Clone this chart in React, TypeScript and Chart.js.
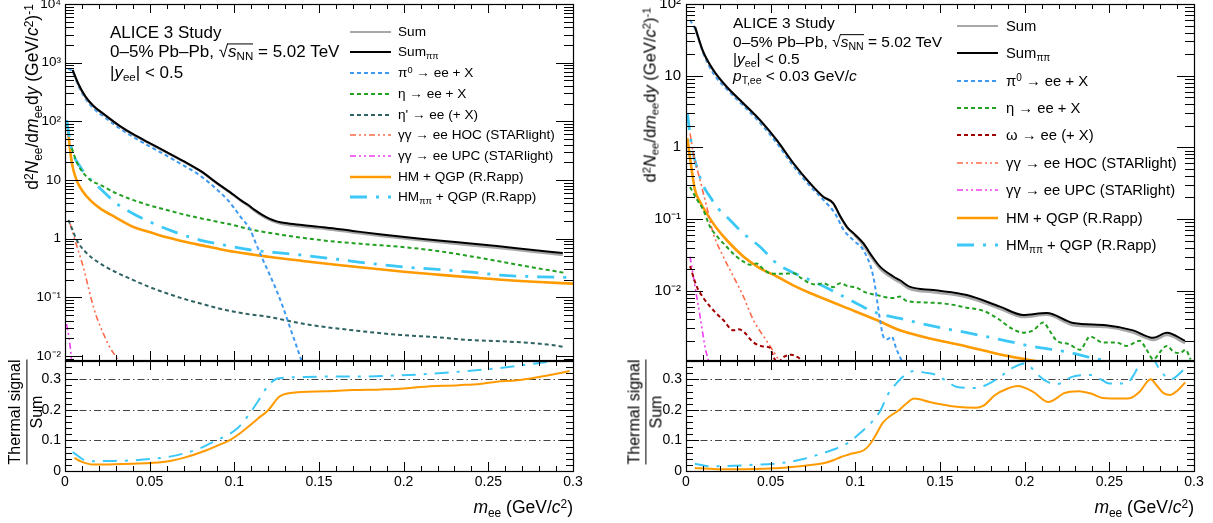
import React, { useEffect, useRef } from 'react';
import { Chart, registerables } from 'chart.js';
Chart.register(...registerables);

type Pt = [number, number];

// ---------------- Axis ticks ----------------
const X_TICKS = [0, 0.05, 0.1, 0.15, 0.2, 0.25, 0.3];
const X_TICK_LABELS = ['0', '0.05', '0.1', '0.15', '0.2', '0.25', '0.3'];
const L_Y_TICKS = [1e-2, 1e-1, 1, 10, 100, 1e3, 1e4];
const L_Y_TICK_LABELS = ['10\u207B\u00B2', '10\u207B\u00B9', '1', '10', '10\u00B2', '10\u00B3', '10\u2074'];
const R_Y_TICKS = [1e-2, 1e-1, 1, 10, 100];
const R_Y_TICK_LABELS = ['10\u207B\u00B2', '10\u207B\u00B9', '1', '10', '10\u00B2'];
const RATIO_TICKS = [0, 0.1, 0.2, 0.3];
const RATIO_TICK_LABELS = ['0', '0.1', '0.2', '0.3'];

// ---------------- Left panel: inclusive ----------------
const L_SUMPP: Pt[] = [[0.0045,752],[0.008,430],[0.012,267],[0.0167,185],[0.024,126],[0.0325,83],[0.04,61],[0.05,42.5],[0.06,30],[0.07,21],[0.08,14.3],[0.09,8.8],[0.1,5.5],[0.104,4.5],[0.108,3.8],[0.112,3.1],[0.116,2.6],[0.12,2.25],[0.125,1.98],[0.13,1.85],[0.14,1.72],[0.154,1.56],[0.17,1.36],[0.187,1.18],[0.21,1.0],[0.232,0.87],[0.255,0.75],[0.275,0.65],[0.294,0.57]];
const L_SUM: Pt[] = [[0.0045,745],[0.008,422],[0.012,262],[0.0167,181],[0.024,124],[0.0325,82],[0.04,60],[0.05,42],[0.06,29.6],[0.07,20.7],[0.08,14.1],[0.09,8.65],[0.1,5.38],[0.104,4.38],[0.108,3.7],[0.112,3.0],[0.116,2.5],[0.12,2.15],[0.125,1.88],[0.13,1.75],[0.14,1.62],[0.154,1.47],[0.17,1.28],[0.187,1.11],[0.21,0.94],[0.232,0.815],[0.255,0.70],[0.275,0.605],[0.294,0.53]];
const L_PI0: Pt[] = [[0.002,800],[0.0045,690],[0.008,395],[0.012,245],[0.0167,168],[0.024,114],[0.0325,75],[0.04,55],[0.05,37.5],[0.06,26],[0.07,17.8],[0.08,11.8],[0.09,6.8],[0.096,4.6],[0.1,3.3],[0.104,2.3],[0.109,1.5],[0.113,0.8],[0.117,0.43],[0.121,0.24],[0.125,0.13],[0.129,0.065],[0.133,0.03],[0.136,0.017],[0.139,0.0095],[0.142,0.0055]];
const L_ETA: Pt[] = [[0.004,35],[0.007,20],[0.011,13],[0.015,10],[0.0207,8.3],[0.03,6.0],[0.04,4.6],[0.05,3.7],[0.06,3.1],[0.07,2.6],[0.08,2.24],[0.09,1.95],[0.1,1.7],[0.109,1.45],[0.12,1.27],[0.139,1.05],[0.16,0.89],[0.18,0.8],[0.198,0.73],[0.22,0.62],[0.24,0.5],[0.257,0.41],[0.275,0.33],[0.296,0.26]];
const L_ETAP: Pt[] = [[0.002,2.1],[0.0045,1.4],[0.0069,0.95],[0.012,0.6],[0.0207,0.38],[0.03,0.27],[0.04,0.2],[0.05,0.15],[0.06,0.118],[0.07,0.095],[0.08,0.079],[0.09,0.066],[0.1,0.057],[0.11,0.051],[0.12,0.047],[0.13,0.041],[0.145,0.034],[0.168,0.028],[0.198,0.023],[0.22,0.021],[0.237,0.019],[0.26,0.0178],[0.277,0.0166],[0.285,0.0158],[0.294,0.0145]];
const L_HOC: Pt[] = [[0.003,1.8],[0.007,0.75],[0.0108,0.33],[0.014,0.14],[0.0167,0.07],[0.0195,0.04],[0.0226,0.0245],[0.026,0.015],[0.0305,0.0093],[0.033,0.007]];
const L_UPC: Pt[] = [[0.0009,0.035],[0.0025,0.02],[0.0035,0.011],[0.0045,0.006]];
const L_HM: Pt[] = [[0.001,105],[0.002,60],[0.0035,25],[0.0049,15],[0.0075,9],[0.0099,6.8],[0.015,4.5],[0.0207,3.3],[0.03,2.3],[0.04,1.6],[0.05,1.3],[0.06,1.06],[0.07,0.9],[0.08,0.78],[0.09,0.68],[0.1,0.6],[0.12,0.495],[0.14,0.42],[0.16,0.36],[0.18,0.315],[0.2,0.275],[0.22,0.245],[0.24,0.22],[0.26,0.198],[0.28,0.183],[0.3,0.172]];
const L_HMPP: Pt[] = [[0.001,105],[0.003,45],[0.005,27],[0.0089,17],[0.0125,12],[0.0167,9.3],[0.0305,4.0],[0.04,2.7],[0.05,1.95],[0.065,1.3],[0.0797,0.95],[0.095,0.77],[0.109,0.65],[0.125,0.58],[0.139,0.53],[0.16,0.45],[0.18,0.38],[0.198,0.335],[0.22,0.3],[0.24,0.27],[0.257,0.24],[0.28,0.225],[0.296,0.22]];
const L_RATIO_HM: Pt[] = [[0.0056,0.043],[0.01,0.03],[0.017,0.021],[0.029,0.022],[0.04,0.024],[0.052,0.027],[0.062,0.033],[0.07,0.043],[0.0836,0.068],[0.09,0.083],[0.097,0.10],[0.103,0.122],[0.108,0.144],[0.114,0.172],[0.12,0.199],[0.1265,0.243],[0.133,0.255],[0.154,0.261],[0.17,0.265],[0.187,0.267],[0.2,0.27],[0.21,0.275],[0.2326,0.281],[0.245,0.285],[0.255,0.292],[0.267,0.297],[0.278,0.306],[0.288,0.316],[0.298,0.327]];
const L_RATIO_HMPP: Pt[] = [[0.0045,0.062],[0.0136,0.032],[0.029,0.033],[0.04,0.035],[0.052,0.04],[0.062,0.047],[0.07,0.057],[0.08,0.075],[0.088,0.097],[0.095,0.115],[0.1017,0.139],[0.108,0.18],[0.115,0.237],[0.12,0.28],[0.125,0.302],[0.129,0.305],[0.142,0.308],[0.16,0.309],[0.175,0.309],[0.187,0.311],[0.21,0.316],[0.2326,0.325],[0.255,0.336],[0.278,0.352],[0.289,0.36],[0.3,0.372]];

// ---------------- Right panel: pT,ee < 0.03 GeV/c ----------------
const R_SUMPP: Pt[] = [[0.0053,48],[0.01,22],[0.0161,12],[0.024,7.0],[0.0339,4.1],[0.0437,2.4],[0.0536,1.26],[0.0634,0.6],[0.0732,0.316],[0.081,0.205],[0.087,0.166],[0.091,0.11],[0.095,0.078],[0.1,0.06],[0.1047,0.046],[0.11,0.03],[0.1146,0.0217],[0.1224,0.0158],[0.1264,0.014],[0.132,0.0114],[0.146,0.0102],[0.1658,0.0087],[0.1854,0.006],[0.199,0.0046],[0.213,0.0049],[0.2287,0.00355],[0.248,0.0033],[0.264,0.0028],[0.276,0.0022],[0.284,0.0026],[0.2947,0.002]];
const R_SUM: Pt[] = [[0.0053,48],[0.01,22],[0.0161,12],[0.024,7.0],[0.0339,4.1],[0.0437,2.4],[0.0536,1.26],[0.0634,0.6],[0.0732,0.315],[0.081,0.204],[0.087,0.165],[0.091,0.109],[0.095,0.077],[0.1,0.058],[0.1047,0.043],[0.11,0.028],[0.1146,0.0202],[0.1224,0.0147],[0.1264,0.013],[0.132,0.0106],[0.146,0.0095],[0.1658,0.0081],[0.1854,0.0056],[0.199,0.0043],[0.213,0.0046],[0.2287,0.0033],[0.248,0.0031],[0.264,0.0026],[0.276,0.00205],[0.284,0.0024],[0.2947,0.00186]];
const R_PI0: Pt[] = [[0.0024,60],[0.0053,45],[0.01,21],[0.0161,10.8],[0.024,6.5],[0.0339,3.8],[0.0437,2.2],[0.0536,1.15],[0.0634,0.55],[0.0732,0.29],[0.083,0.166],[0.088,0.12],[0.093,0.071],[0.099,0.05],[0.1047,0.037],[0.1106,0.0158],[0.1146,0.0039],[0.1165,0.0023],[0.119,0.0021],[0.1214,0.0023],[0.1244,0.0015],[0.127,0.0011],[0.13,0.0007]];
const R_ETA: Pt[] = [[0.0024,0.28],[0.0063,0.19],[0.0102,0.134],[0.0142,0.078],[0.019,0.055],[0.024,0.041],[0.029,0.031],[0.0339,0.0255],[0.038,0.023],[0.0417,0.024],[0.0457,0.02],[0.0496,0.0175],[0.056,0.0172],[0.0634,0.0175],[0.068,0.015],[0.0732,0.0127],[0.077,0.0122],[0.081,0.0127],[0.087,0.0112],[0.091,0.0127],[0.096,0.0115],[0.1,0.0112],[0.106,0.0095],[0.1126,0.0087],[0.1224,0.0079],[0.1264,0.0083],[0.1303,0.0072],[0.146,0.0068],[0.155,0.0065],[0.1658,0.0058],[0.176,0.0052],[0.1854,0.0039],[0.192,0.003],[0.199,0.0026],[0.205,0.0028],[0.211,0.0036],[0.215,0.0027],[0.219,0.002],[0.226,0.0018],[0.2327,0.0015],[0.2386,0.0023],[0.246,0.0019],[0.254,0.0019],[0.26,0.0017],[0.268,0.002],[0.272,0.0015],[0.276,0.0011],[0.28,0.0014],[0.284,0.0017],[0.288,0.0014],[0.2917,0.00135],[0.295,0.0015],[0.298,0.0011]];
const R_OMEGA: Pt[] = [[0.0024,0.022],[0.0063,0.0115],[0.0102,0.008],[0.0142,0.006],[0.018,0.0048],[0.022,0.0039],[0.028,0.0028],[0.031,0.0029],[0.0339,0.0027],[0.0398,0.0019],[0.0457,0.00167],[0.0496,0.0016],[0.0516,0.0012],[0.054,0.001],[0.058,0.0012],[0.062,0.00128],[0.066,0.00118],[0.07,0.001],[0.075,0.0009]];
const R_HOC: Pt[] = [[0.0024,1.57],[0.0043,0.83],[0.0083,0.35],[0.0122,0.149],[0.0161,0.063],[0.022,0.030],[0.028,0.0158],[0.0339,0.0083],[0.0398,0.0039],[0.0476,0.002],[0.0536,0.0012],[0.058,0.0008]];
const R_UPC: Pt[] = [[0.0024,0.030],[0.0053,0.0115],[0.0083,0.0044],[0.0112,0.00166],[0.0135,0.001]];
const R_HM: Pt[] = [[0.0008,1.34],[0.0034,0.48],[0.0053,0.255],[0.0085,0.17],[0.0122,0.12],[0.018,0.075],[0.024,0.051],[0.0339,0.030],[0.043,0.021],[0.0536,0.0158],[0.063,0.012],[0.0732,0.0093],[0.083,0.0075],[0.093,0.006],[0.1126,0.0039],[0.1264,0.0028],[0.146,0.0021],[0.1658,0.00167],[0.185,0.0013],[0.201,0.0011],[0.22,0.00092],[0.25,0.0007],[0.28,0.00058],[0.3,0.0005]];
const R_HMPP: Pt[] = [[0.0008,3.0],[0.0035,1.0],[0.0063,0.54],[0.01,0.3],[0.0142,0.204],[0.019,0.14],[0.024,0.108],[0.0339,0.063],[0.0437,0.041],[0.0536,0.024],[0.063,0.018],[0.0732,0.0141],[0.083,0.011],[0.093,0.0083],[0.1126,0.0049],[0.1264,0.0041],[0.146,0.0032],[0.1658,0.0026],[0.185,0.0021],[0.205,0.00166],[0.225,0.0014],[0.244,0.0011],[0.27,0.0009],[0.3,0.00075]];
const R_RATIO_HM: Pt[] = [[0.0052,0.010],[0.015,0.007],[0.0234,0.0055],[0.035,0.006],[0.046,0.0077],[0.058,0.011],[0.069,0.016],[0.076,0.021],[0.0824,0.027],[0.087,0.035],[0.0915,0.046],[0.098,0.057],[0.105,0.068],[0.109,0.09],[0.112,0.117],[0.1165,0.16],[0.1256,0.199],[0.13,0.22],[0.1347,0.237],[0.1438,0.226],[0.152,0.217],[0.16,0.21],[0.171,0.207],[0.176,0.215],[0.1824,0.248],[0.19,0.27],[0.196,0.278],[0.205,0.259],[0.214,0.226],[0.218,0.235],[0.223,0.254],[0.232,0.261],[0.24,0.252],[0.246,0.239],[0.257,0.237],[0.263,0.24],[0.268,0.26],[0.2744,0.30],[0.278,0.28],[0.282,0.255],[0.286,0.249],[0.29,0.262],[0.2948,0.29]];
const R_RATIO_HMPP: Pt[] = [[0.0052,0.024],[0.0143,0.015],[0.0347,0.019],[0.0575,0.027],[0.07,0.04],[0.08,0.057],[0.088,0.072],[0.096,0.093],[0.103,0.125],[0.1097,0.16],[0.115,0.2],[0.119,0.248],[0.124,0.285],[0.128,0.308],[0.1347,0.327],[0.141,0.322],[0.148,0.314],[0.155,0.29],[0.16,0.275],[0.171,0.272],[0.1824,0.297],[0.194,0.341],[0.2005,0.352],[0.207,0.319],[0.213,0.293],[0.219,0.284],[0.228,0.308],[0.239,0.314],[0.245,0.3],[0.25,0.286],[0.26,0.286],[0.265,0.32],[0.27,0.37],[0.275,0.37],[0.28,0.33],[0.286,0.30],[0.295,0.336]];

// ---------------- Style ----------------
const FONT = '"Liberation Sans", Arial, Helvetica, sans-serif';
const COL = {
  sum: '#a8a8a8', sumpp: '#000000', pi0: '#3d9af2', eta: '#21a021', etap: '#2f6262',
  omega: '#a00000', hoc: '#ff6a4a', upc: '#f03cf0', hm: '#ff9a00', hmpp: '#3cc8f7',
};
type Sty = { color: string; width: number; dash: number[] };
const STY: Record<string, Sty> = {
  sum: { color: COL.sum, width: 2.4, dash: [] },
  sumpp: { color: COL.sumpp, width: 2, dash: [] },
  pi0: { color: COL.pi0, width: 2, dash: [4, 3] },
  eta: { color: COL.eta, width: 2, dash: [4, 3] },
  etap: { color: COL.etap, width: 2, dash: [4, 3] },
  omega: { color: COL.omega, width: 2, dash: [4, 3] },
  hoc: { color: COL.hoc, width: 1.6, dash: [6, 3, 2, 3, 2, 3] },
  upc: { color: COL.upc, width: 1.6, dash: [6, 3, 2, 3, 2, 3] },
  hm: { color: COL.hm, width: 2.6, dash: [] },
  hmpp: { color: COL.hmpp, width: 2.8, dash: [17, 9, 3, 9] },
};

const ds = (label: string, pts: Pt[], s: Sty) => ({
  label,
  data: pts.map(([x, y]) => ({ x, y })),
  borderColor: s.color,
  backgroundColor: s.color,
  borderWidth: s.width,
  borderDash: s.dash,
  borderCapStyle: 'butt',
  fill: false,
  pointRadius: 0,
  cubicInterpolationMode: 'monotone',
});

function logTicks(min: number, max: number) {
  const major: number[] = [];
  const minor: number[] = [];
  for (let e = Math.floor(Math.log10(min)); e <= Math.ceil(Math.log10(max)); e++) {
    for (let m = 1; m <= 9; m++) {
      const v = m * Math.pow(10, e);
      if (v < min * 0.999 || v > max * 1.001) continue;
      (m === 1 ? major : minor).push(v);
    }
  }
  return { major, minor };
}
function linTicks(min: number, max: number, step: number) {
  const out: number[] = [];
  const n = Math.round((max - min) / step);
  for (let i = 0; i <= n; i++) out.push(+(min + i * step).toFixed(6));
  return out;
}

const frameTicksPlugin = {
  id: 'frameTicks',
  beforeDatasetsDraw(chart: any, _a: any, o: any) {
    if (!o.grid || !o.grid.length) return;
    const { ctx, chartArea: a, scales } = chart;
    ctx.save();
    ctx.strokeStyle = '#444';
    ctx.lineWidth = 1;
    ctx.setLineDash([7, 3, 1.5, 3]);
    for (const v of o.grid) {
      const py = Math.round(scales.y.getPixelForValue(v)) + 0.5;
      ctx.beginPath();
      ctx.moveTo(a.left, py);
      ctx.lineTo(a.right, py);
      ctx.stroke();
    }
    ctx.restore();
  },
  afterDatasetsDraw(chart: any, _a: any, o: any) {
    const { ctx, chartArea: a, scales } = chart;
    ctx.save();
    ctx.strokeStyle = '#000';
    ctx.lineWidth = 1;
    ctx.setLineDash([]);
    const L = Math.round(a.left), R = Math.round(a.right), T = Math.round(a.top), B = Math.round(a.bottom);
    const xt = (vals: number[], len: number) => {
      for (const v of vals) {
        const px = Math.round(scales.x.getPixelForValue(v)) + 0.5;
        ctx.beginPath();
        ctx.moveTo(px, B); ctx.lineTo(px, B - len);
        ctx.moveTo(px, T); ctx.lineTo(px, T + len);
        ctx.stroke();
      }
    };
    const yt = (vals: number[], len: number) => {
      for (const v of vals) {
        const py = Math.round(scales.y.getPixelForValue(v)) + 0.5;
        ctx.beginPath();
        ctx.moveTo(L, py); ctx.lineTo(L + len, py);
        ctx.moveTo(R, py); ctx.lineTo(R - len, py);
        ctx.stroke();
      }
    };
    xt(o.xMajor, o.xMajorLen);
    xt(o.xMinor, o.xMinorLen);
    yt(o.yMajor, o.yMajorLen);
    yt(o.yMinor, o.yMinorLen);
    ctx.lineWidth = 1.2;
    ctx.strokeRect(L + 0.5, T + 0.5, R - L, B - T);
    ctx.restore();
  },
};

type Box = { left: number; top: number; width: number; height: number };

function makeTop(box: Box, plot: { l: number; t: number; r: number; b: number }, datasets: any[], yMin: number, yMax: number, yTicks: number[], yLabels: string[], fontSize: number, labelPad: number) {
  const lt = logTicks(yMin, yMax);
  return {
    type: 'line',
    data: { datasets },
    options: {
      responsive: false,
      animation: false,
      devicePixelRatio: 1,
      events: [],
      layout: { padding: { left: 0, top: plot.t - box.top, right: box.left + box.width - plot.r, bottom: box.top + box.height - plot.b } },
      scales: {
        x: { type: 'linear', min: 0, max: 0.3, display: false },
        y: {
          type: 'logarithmic', min: yMin, max: yMax,
          afterBuildTicks: (s: any) => { s.ticks = yTicks.map((v) => ({ value: v })); },
          afterFit: (s: any) => { s.width = plot.l - box.left; s.paddingTop = 0; s.paddingBottom = 0; },
          grid: { display: false, drawTicks: false },
          border: { display: false },
          ticks: { autoSkip: false, color: '#000', padding: labelPad, font: { family: FONT, size: fontSize }, callback: (_v: any, i: number) => yLabels[i] },
        },
      },
      plugins: {
        legend: { display: false },
        tooltip: { enabled: false },
        frameTicks: {
          xMajor: X_TICKS, xMinor: linTicks(0, 0.3, 0.01).filter((v) => !X_TICKS.some((t) => Math.abs(t - v) < 1e-6)),
          yMajor: lt.major, yMinor: lt.minor, xMajorLen: 9, xMinorLen: 5, yMajorLen: 17, yMinorLen: 9, grid: [],
        },
      },
    },
    plugins: [frameTicksPlugin],
  };
}

function makeRatio(box: Box, plot: { l: number; t: number; r: number; b: number }, datasets: any[], fontSize: number) {
  const yMinor = linTicks(0, 0.36, 0.02).filter((v) => !RATIO_TICKS.some((t) => Math.abs(t - v) < 1e-6));
  return {
    type: 'line',
    data: { datasets },
    options: {
      responsive: false,
      animation: false,
      devicePixelRatio: 1,
      events: [],
      layout: { padding: { left: 0, top: plot.t - box.top, right: box.left + box.width - plot.r, bottom: 0 } },
      scales: {
        x: {
          type: 'linear', min: 0, max: 0.3,
          afterBuildTicks: (s: any) => { s.ticks = X_TICKS.map((v) => ({ value: v })); },
          afterFit: (s: any) => { s.height = box.top + box.height - plot.b; s.paddingLeft = 0; s.paddingRight = 0; },
          grid: { display: false, drawTicks: false },
          border: { display: false },
          ticks: { autoSkip: false, maxRotation: 0, color: '#000', padding: 3, font: { family: FONT, size: fontSize }, callback: (_v: any, i: number) => X_TICK_LABELS[i] },
        },
        y: {
          type: 'linear', min: 0, max: 0.36,
          afterBuildTicks: (s: any) => { s.ticks = RATIO_TICKS.map((v) => ({ value: v })); },
          afterFit: (s: any) => { s.width = plot.l - box.left; s.paddingTop = 0; s.paddingBottom = 0; },
          grid: { display: false, drawTicks: false },
          border: { display: false },
          ticks: { autoSkip: false, color: '#000', padding: 4, font: { family: FONT, size: fontSize }, callback: (_v: any, i: number) => RATIO_TICK_LABELS[i] },
        },
      },
      plugins: {
        legend: { display: false },
        tooltip: { enabled: false },
        frameTicks: {
          xMajor: X_TICKS, xMinor: linTicks(0, 0.3, 0.01).filter((v) => !X_TICKS.some((t) => Math.abs(t - v) < 1e-6)),
          yMajor: RATIO_TICKS, yMinor: yMinor, xMajorLen: 9, xMinorLen: 5, yMajorLen: 13, yMinorLen: 7, grid: [0.1, 0.2, 0.3],
        },
      },
    },
    plugins: [frameTicksPlugin],
  };
}

function ChartCanvas({ box, build }: { box: Box; build: () => any }) {
  const ref = useRef<HTMLCanvasElement>(null);
  useEffect(() => {
    const chart = new Chart(ref.current as HTMLCanvasElement, build());
    return () => chart.destroy();
  }, []);
  return (
    <canvas ref={ref} width={box.width} height={box.height}
      style={{ position: 'absolute', left: box.left, top: box.top, width: box.width, height: box.height }} />
  );
}

// ---------------- Text helpers ----------------
const Sub = ({ children }: any) => <span style={{ fontSize: '0.68em', position: 'relative', top: '0.3em' }}>{children}</span>;
const Sup = ({ children }: any) => <span style={{ fontSize: '0.68em', position: 'relative', top: '-0.45em' }}>{children}</span>;
const I = ({ children }: any) => <span style={{ fontStyle: 'italic' }}>{children}</span>;

const Txt = ({ x, y, size, children, right }: any) => (
  <div style={{
    position: 'absolute', top: y, fontSize: size, lineHeight: 1, whiteSpace: 'nowrap',
    transform: 'translateY(-50%)', ...(right !== undefined ? { right } : { left: x }),
  }}>{children}</div>
);

const Rot = ({ x, y, size, children }: any) => (
  <div style={{
    position: 'absolute', left: x, top: y, fontSize: size, lineHeight: 1.15, whiteSpace: 'nowrap',
    transform: 'translate(-50%, -50%) rotate(-90deg)', textAlign: 'center',
  }}>{children}</div>
);

const Sqrt = () => (
  <span>{'\u221A'}<span style={{ display: 'inline-block', borderTop: '1px solid #000', lineHeight: 0.95, marginLeft: -1, paddingLeft: 1 }}><I>s</I><Sub>NN</Sub></span></span>
);

const LegendRow = ({ x, tx, y, size, sty, children }: any) => (
  <>
    <svg style={{ position: 'absolute', left: x, top: y - 5 }} width={41} height={10}>
      <line x1={0} y1={5} x2={41} y2={5} stroke={sty.color} strokeWidth={sty.width}
        strokeDasharray={sty.dash.length ? sty.dash.join(',') : undefined} />
    </svg>
    <Txt x={tx} y={y} size={size}>{children}</Txt>
  </>
);

const legendItems = (omega: boolean) => {
  const rows: [Sty, any][] = [
    [{ ...STY.sum, width: 2 }, <>Sum</>],
    [STY.sumpp, <>Sum<Sub>{'\u03C0\u03C0'}</Sub></>],
    [STY.pi0, <>{'\u03C0'}<Sup>0</Sup> {'\u2192'} ee + X</>],
    [STY.eta, <>{'\u03B7 \u2192'} ee + X</>],
    omega ? [STY.omega, <>{'\u03C9 \u2192'} ee (+ X)</>] : [STY.etap, <>{'\u03B7\' \u2192'} ee (+ X)</>],
    [STY.hoc, <>{'\u03B3\u03B3 \u2192'} ee HOC (STARlight)</>],
    [STY.upc, <>{'\u03B3\u03B3 \u2192'} ee UPC (STARlight)</>],
    [STY.hm, <>HM + QGP (R.Rapp)</>],
    [STY.hmpp, <>HM<Sub>{'\u03C0\u03C0'}</Sub> + QGP (R.Rapp)</>],
  ];
  return rows;
};

const ThermalTitle = ({ x, y }: any) => (
  <div style={{
    position: 'absolute', left: x, top: y, fontSize: 16, lineHeight: 1.1, whiteSpace: 'nowrap',
    transform: 'translate(-50%, -50%) rotate(-90deg)', textAlign: 'center',
  }}>
    <div style={{ borderBottom: '1.5px solid #000', paddingBottom: 2 }}>Thermal signal</div>
    <div style={{ paddingTop: 1 }}>Sum</div>
  </div>
);

const YTitle = ({ x, y, size }: any) => (
  <Rot x={x} y={y} size={size}>
    d<Sup>2</Sup><I>N</I><Sub>ee</Sub>/d<I>m</I><Sub>ee</Sub>d<I>y</I> (GeV/<I>c</I><Sup>2</Sup>)<Sup>-1</Sup>
  </Rot>
);

export default function App() {
  const LT = { l: 65, t: 4, r: 573, b: 360 };
  const LB = { l: 65, t: 361, r: 573, b: 471 };
  const RT = { l: 686, t: 4, r: 1194, b: 360 };
  const RB = { l: 686, t: 361, r: 1194, b: 471 };
  const boxLT: Box = { left: 0, top: 0, width: 600, height: 362 };
  const boxLB: Box = { left: 0, top: 355, width: 600, height: 168 };
  const boxRT: Box = { left: 610, top: 0, width: 603, height: 362 };
  const boxRB: Box = { left: 610, top: 355, width: 603, height: 168 };

  const leftTopSets = () => [
    ds('Sum_pipi', L_SUMPP, STY.sumpp),
    ds('Sum', L_SUM, STY.sum),
    ds('pi0', L_PI0, STY.pi0),
    ds('eta', L_ETA, STY.eta),
    ds('etap', L_ETAP, STY.etap),
    ds('HOC', L_HOC, STY.hoc),
    ds('UPC', L_UPC, STY.upc),
    ds('HMpp', L_HMPP, STY.hmpp),
    ds('HM', L_HM, STY.hm),
  ];
  const rightTopSets = () => [
    ds('Sum_pipi', R_SUMPP, STY.sumpp),
    ds('Sum', R_SUM, STY.sum),
    ds('pi0', R_PI0, STY.pi0),
    ds('eta', R_ETA, STY.eta),
    ds('omega', R_OMEGA, STY.omega),
    ds('HOC', R_HOC, STY.hoc),
    ds('UPC', R_UPC, STY.upc),
    ds('HMpp', R_HMPP, STY.hmpp),
    ds('HM', R_HM, STY.hm),
  ];
  const ratioSty = { hm: { ...STY.hm, width: 2 }, hmpp: { ...STY.hmpp, width: 2, dash: [14, 8, 3, 8] } };

  const legL = legendItems(false);
  const legR = legendItems(true);

  return (
    <div style={{ position: 'fixed', left: 0, top: 0, width: 1213, height: 523, background: '#fff', overflow: 'hidden', fontFamily: FONT, color: '#000' }}>
      <ChartCanvas box={boxLT} build={() => makeTop(boxLT, LT, leftTopSets(), 0.0086, 1e4, L_Y_TICKS, L_Y_TICK_LABELS, 13.5, 4)} />
      <ChartCanvas box={boxLB} build={() => makeRatio(boxLB, LB, [ds('HMpp/Sum', L_RATIO_HMPP, ratioSty.hmpp), ds('HM/Sum', L_RATIO_HM, ratioSty.hm)], 14)} />
      <ChartCanvas box={boxRT} build={() => makeTop(boxRT, RT, rightTopSets(), 0.00108, 100, R_Y_TICKS, R_Y_TICK_LABELS, 15, 5)} />
      <ChartCanvas box={boxRB} build={() => makeRatio(boxRB, RB, [ds('HMpp/Sum', R_RATIO_HMPP, ratioSty.hmpp), ds('HM/Sum', R_RATIO_HM, ratioSty.hm)], 14)} />

      {/* Left panel texts */}
      <Txt x={110} y={32} size={17}>ALICE 3 Study</Txt>
      <Txt x={110} y={52} size={17}>0{'\u2013'}5% Pb{'\u2013'}Pb, <Sqrt /> = 5.02 TeV</Txt>
      <Txt x={110} y={72} size={17}>|<I>y</I><Sub>ee</Sub>| &lt; 0.5</Txt>
      {legL.map(([s, t], i) => (
        <LegendRow key={'l' + i} x={350} tx={398} y={31.7 + i * 20.7} size={13.6} sty={s}>{t}</LegendRow>
      ))}
      <YTitle x={32} y={97} size={17.5} />
      <ThermalTitle x={26} y={412} />
      <Txt right={1213 - 573} y={508} size={17.5}><I>m</I><Sub>ee</Sub> (GeV/<I>c</I><Sup>2</Sup>)</Txt>

      {/* Right panel texts */}
      <Txt x={733} y={23} size={15.5}>ALICE 3 Study</Txt>
      <Txt x={733} y={42} size={15.5}>0{'\u2013'}5% Pb{'\u2013'}Pb, <Sqrt /> = 5.02 TeV</Txt>
      <Txt x={733} y={59} size={15.5}>|<I>y</I><Sub>ee</Sub>| &lt; 0.5</Txt>
      <Txt x={733} y={76} size={15.5}><I>p</I><Sub>T,ee</Sub> &lt; 0.03 GeV/<I>c</I></Txt>
      {legR.map(([s, t], i) => (
        <LegendRow key={'r' + i} x={957} tx={1006} y={25.7 + i * 27.4} size={14.8} sty={s}>{t}</LegendRow>
      ))}
      <YTitle x={650} y={95} size={16.5} />
      <ThermalTitle x={645} y={412} />
      <Txt right={1213 - 1194} y={508} size={17.5}><I>m</I><Sub>ee</Sub> (GeV/<I>c</I><Sup>2</Sup>)</Txt>
    </div>
  );
}
